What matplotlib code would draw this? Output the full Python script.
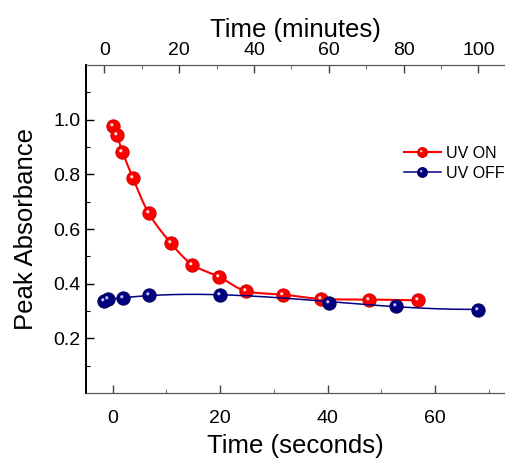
import numpy as np
import matplotlib
matplotlib.use('Agg')
import matplotlib.pyplot as plt
from matplotlib.path import Path
from matplotlib.legend_handler import HandlerTuple

plt.rcParams['font.family'] = ['Liberation Sans', 'DejaVu Sans']

# UV ON: time in seconds (bottom axis)
on_time = [0, 0.8, 1.8, 3.8, 6.7, 10.8, 14.8, 19.8, 24.8, 31.8, 38.8, 47.8, 56.8]
on_abs = [0.978, 0.943, 0.883, 0.785, 0.658, 0.549, 0.470, 0.425, 0.373, 0.360, 0.344, 0.342, 0.339]

# UV OFF: time in minutes (top axis)
off_time = [0, 1, 5, 12, 31, 60, 78, 100]
off_abs = [0.338, 0.343, 0.349, 0.358, 0.360, 0.330, 0.320, 0.305]

labels = ['UV ON', 'UV OFF']


def catmull(x, y, n=20):
    # smooth line through the points (Catmull-Rom)
    p = np.column_stack([x, y]).astype(float)
    p = np.vstack([p[0], p, p[-1]])
    t = np.linspace(0, 1, n)[:, None]
    out = []
    for i in range(1, len(p) - 2):
        p0, p1, p2, p3 = p[i - 1], p[i], p[i + 1], p[i + 2]
        seg = 0.5 * (2 * p1 + (-p0 + p2) * t
                     + (2 * p0 - 5 * p1 + 4 * p2 - p3) * t ** 2
                     + (-p0 + 3 * p1 - 3 * p2 + p3) * t ** 3)
        out.append(seg)
    out = np.vstack(out)
    return out[:, 0], out[:, 1]


# small highlight spot on the "sphere" markers
circ = Path.circle(center=(-0.26, 0.26), radius=0.24)
hl_marker = Path(np.vstack([[[-1, -1]], [[1, 1]], circ.vertices]),
                 [Path.MOVETO, Path.MOVETO] + list(circ.codes))

fig = plt.figure(figsize=(5.05, 4.61), dpi=100)
ax = fig.add_axes([86 / 505, 1 - 393 / 461, 1 - 86 / 505, (393 - 65) / 461])
ax2 = ax.twiny()

# UV ON
sx, sy = catmull(on_time, on_abs)
ax.plot(sx, sy, color='#ff0000', lw=1.5, zorder=2)
ax.plot(on_time, on_abs, ls='none', marker='o', ms=9.5, mfc='#ff0000', mec='#d80000', mew=0.8, zorder=3)
ax.plot(on_time, on_abs, ls='none', marker=hl_marker, ms=9.5, mfc='#ffe4e4', mec='none', zorder=4)

# UV OFF (trend line)
coef = np.polyfit(off_time, off_abs, 3)
fx = np.linspace(min(off_time), max(off_time), 200)
ax2.plot(fx, np.polyval(coef, fx), color='#000080', lw=1.1, zorder=2)
ax2.plot(off_time, off_abs, ls='none', marker='o', ms=9.5, mfc='#000080', mec='#000060', mew=0.8, zorder=3)
ax2.plot(off_time, off_abs, ls='none', marker=hl_marker, ms=9.5, mfc='#c4c4ee', mec='none', zorder=4)

ax.set_xlim(-4.97, 73.05)
ax2.set_xlim(-4.89, 107.1)
ax.set_ylim(0, 1.2)

ax.set_xticks([0, 20, 40, 60])
ax.set_xticks([10, 30, 50, 70], minor=True)
ax2.set_xticks([0, 20, 40, 60, 80, 100])
ax2.set_xticks([10, 30, 50, 70, 90], minor=True)
ax.set_yticks([0.2, 0.4, 0.6, 0.8, 1.0])
ax.set_yticks([0.1, 0.3, 0.5, 0.7, 0.9, 1.1], minor=True)
ax.set_yticklabels(['0.2', '0.4', '0.6', '0.8', '1.0'])

ax.tick_params(axis='x', which='major', direction='in', length=6, width=1, color='#444444', labelsize=14, pad=12)
ax.tick_params(axis='x', which='minor', direction='in', length=3, width=0.8, color='#777777')
ax.tick_params(axis='y', which='major', direction='in', length=6, width=1, labelsize=14, pad=4)
ax.tick_params(axis='y', which='minor', direction='in', length=3, width=0.8)
ax2.tick_params(axis='x', which='major', direction='in', length=6, width=1, color='#444444', labelsize=14, pad=4)
ax2.tick_params(axis='x', which='minor', direction='in', length=3, width=0.8, color='#777777')

for a in (ax, ax2):
    a.spines['right'].set_visible(False)
    a.spines['left'].set_linewidth(1.4)
    a.spines['left'].set_color('black')
    a.spines['bottom'].set_color('#555555')
    a.spines['top'].set_color('#555555')

ax.set_xlabel('Time (seconds)', fontsize=18.5, labelpad=5)
ax2.set_xlabel('Time (minutes)', fontsize=18.5, labelpad=4)
ax.set_ylabel('Peak Absorbance', fontsize=18.5, labelpad=11)

h_on = plt.Line2D([], [], color='#ff0000', lw=1.5, marker='o', ms=7, mfc='#ff0000', mec='#d80000', mew=0.8)
h_on_hl = plt.Line2D([], [], ls='none', marker=hl_marker, ms=7, mfc='#ffe4e4', mec='none')
h_off = plt.Line2D([], [], color='#000080', lw=1.1, marker='o', ms=7, mfc='#000080', mec='#000060', mew=0.8)
h_off_hl = plt.Line2D([], [], ls='none', marker=hl_marker, ms=7, mfc='#c4c4ee', mec='none')
fig.legend([(h_on, h_on_hl), (h_off, h_off_hl)], labels,
           handler_map={tuple: HandlerTuple(ndivide=1)},
           loc='center left', bbox_to_anchor=(0.8, 0.646), frameon=False,
           fontsize=11.5, handlelength=2.3, handletextpad=0.3, labelspacing=0.3,
           borderpad=0, borderaxespad=0)

fig.savefig('out.png', dpi=100)
